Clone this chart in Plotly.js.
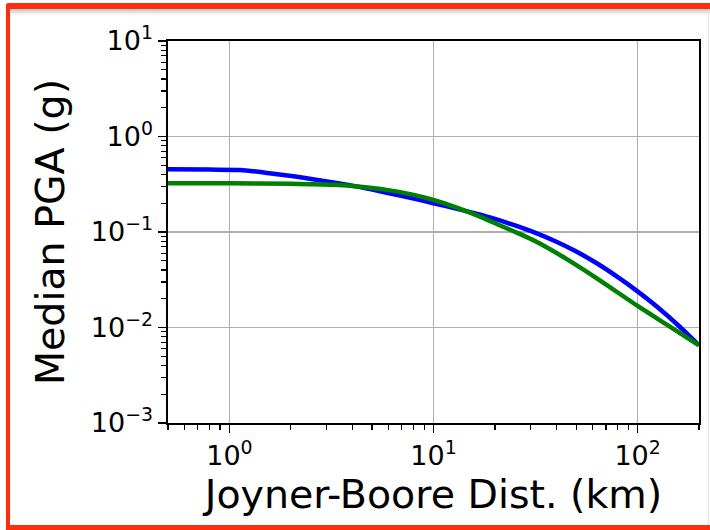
<!DOCTYPE html>
<html>
<head>
<meta charset="utf-8">
<script src="https://cdn.plot.ly/plotly-3.0.1.min.js"></script>
<style>
  html, body { margin: 0; padding: 0; background: #ffffff; }
  #wrap { position: relative; width: 710px; height: 530px; overflow: hidden; }
  #chart { position: absolute; left: 0; top: 0; width: 710px; height: 530px; }
  .frame { position: absolute; pointer-events: none; }
</style>
</head>
<body>
<div id="wrap">
  <div id="chart"></div>
  <div class="frame" style="left:6px; top:9px; width:704px; height:6px; background:linear-gradient(rgba(120,120,120,0.45), rgba(255,255,255,0));"></div>
  <div class="frame" style="left:6px; top:3px; width:704px; height:6px; background:#ff2d0a; border-top-left-radius:3px;"></div>
  <div class="frame" style="left:6px; top:3px; width:4px; height:527px; background:#ff2d0a; border-top-left-radius:3px;"></div>
  <div class="frame" style="left:6px; top:525px; width:704px; height:5px; background:#ff2d0a;"></div>
  <div class="frame" style="left:708px; top:9px; width:1px; height:516px; background:#e2e2e2;"></div>
</div>
<script>
// Joyner-Boore distance (km) and median PGA (g)
const distBlue = [0.5, 0.8, 1.13, 1.5, 2.06, 2.6, 3.23, 4.37, 5.9, 8.0, 10, 12.6, 15.85, 20, 25.1, 31.6, 39.8, 50.1, 63.1, 79.4, 100, 125.9, 158.5, 200];
const pgaBlue  = [0.454, 0.450, 0.446, 0.418, 0.383, 0.355, 0.331, 0.295, 0.258, 0.224, 0.200, 0.178, 0.157, 0.137, 0.117, 0.0978, 0.0795, 0.0624, 0.0471, 0.0341, 0.0239, 0.0162, 0.0105, 0.0065];

const distGreen = [0.5, 1.0, 2.0, 3.23, 4.37, 5.9, 8.0, 10, 13, 16.9, 21.2, 26.6, 31.6, 45, 65.6, 100, 139, 200];
const pgaGreen  = [0.324, 0.324, 0.320, 0.312, 0.298, 0.276, 0.245, 0.217, 0.180, 0.145, 0.117, 0.095, 0.080, 0.052, 0.031, 0.0168, 0.0107, 0.0065];

const yTickVals = [0.001, 0.01, 0.1, 1, 10];
const yTickText = ['10<sup>\u22123</sup>', '10<sup>\u22122</sup>', '10<sup>\u22121</sup>', '10<sup>0</sup>', '10<sup>1</sup>'];
const xTickVals = [1, 10, 100];
const xTickText = ['10<sup>0</sup>', '10<sup>1</sup>', '10<sup>2</sup>'];

const xTitle = 'Joyner-Boore Dist. (km)';
const yTitle = 'Median PGA (g)';

function minorTicks(lo, hi) {
  const out = [];
  for (let e = lo; e <= hi; e++) {
    for (let k = 2; k <= 9; k++) out.push(k * Math.pow(10, e));
  }
  return out;
}

const traces = [
  { x: distBlue, y: pgaBlue, type: 'scatter', mode: 'lines',
    line: { color: '#0000ff', width: 4.5, shape: 'spline', smoothing: 0.6 }, showlegend: false },
  { x: distGreen, y: pgaGreen, type: 'scatter', mode: 'lines',
    line: { color: '#008000', width: 4.5, shape: 'spline', smoothing: 0.6 }, showlegend: false }
];

const font = { family: 'DejaVu Sans, sans-serif', color: '#000000' };

const layout = {
  width: 710, height: 530,
  margin: { l: 168, r: 11, t: 41, b: 107, pad: 0 },
  paper_bgcolor: '#ffffff', plot_bgcolor: '#ffffff',
  font: Object.assign({ size: 27 }, font),
  xaxis: {
    type: 'log', range: [Math.log10(0.5), Math.log10(200)],
    tickmode: 'array', tickvals: xTickVals, ticktext: xTickText,
    ticks: 'outside', ticklen: 8, tickwidth: 1.5, tickcolor: '#000',
    showline: true, linecolor: '#000', linewidth: 1.6, mirror: true,
    showgrid: true, gridcolor: '#b0b0b0', gridwidth: 1.5, zeroline: false,
    tickfont: Object.assign({ size: 27 }, font),
    minor: { tickmode: 'array', tickvals: minorTicks(-1, 2), ticks: 'outside', ticklen: 5, tickwidth: 1.2, tickcolor: '#000', showgrid: false },
    title: { text: xTitle, font: Object.assign({ size: 39.5 }, font), standoff: 8 }
  },
  yaxis: {
    type: 'log', range: [-3, 1],
    tickmode: 'array', tickvals: yTickVals, ticktext: yTickText,
    ticks: 'outside', ticklen: 8, tickwidth: 1.5, tickcolor: '#000',
    showline: true, linecolor: '#000', linewidth: 1.6, mirror: true,
    showgrid: true, gridcolor: '#b0b0b0', gridwidth: 1.5, zeroline: false,
    tickfont: Object.assign({ size: 27 }, font),
    minor: { tickmode: 'array', tickvals: minorTicks(-3, 0), ticks: 'outside', ticklen: 5, tickwidth: 1.2, tickcolor: '#000', showgrid: false },
    title: { text: yTitle, font: Object.assign({ size: 39.5 }, font), standoff: 14 }
  }
};

Plotly.newPlot('chart', traces, layout, { displayModeBar: false, staticPlot: true });
</script>
</body>
</html>
